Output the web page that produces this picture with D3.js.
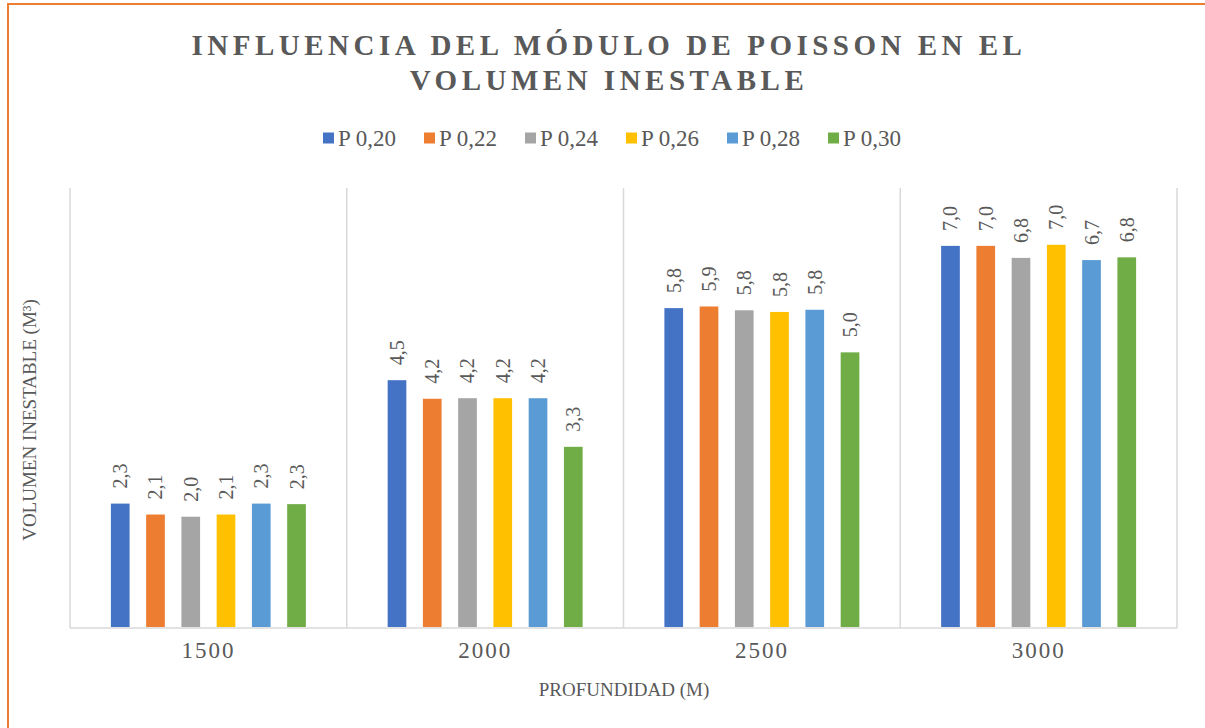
<!DOCTYPE html>
<html>
<head>
<meta charset="utf-8">
<script src="https://cdn.jsdelivr.net/npm/d3@7"></script>
<style>
  body { margin: 0; background: #fff; }
  text { font-family: "Liberation Serif", "Times New Roman", serif; }
</style>
</head>
<body>
<div id="chart"></div>
<script>
// categories and series
var categories = ["1500", "2000", "2500", "3000"]
var seriesNames = ["P 0,20", "P 0,22", "P 0,24", "P 0,26", "P 0,28", "P 0,30"]
var p020 = [2.26, 4.52, 5.84, 6.98]
var p022 = [2.06, 4.18, 5.87, 6.98]
var p024 = [2.02, 4.19, 5.80, 6.76]
var p026 = [2.06, 4.19, 5.77, 7.00]
var p028 = [2.26, 4.19, 5.81, 6.72]
var p030 = [2.25, 3.30, 5.03, 6.77]
var colors = ["#4472C4", "#ED7D31", "#A5A5A5", "#FFC000", "#5B9BD5", "#70AD47"]

var seriesValues = [p020, p022, p024, p026, p028, p030]

var width = 1205,
    height = 728

var svg = d3.select("#chart")
  .append("svg")
    .attr("width", width)
    .attr("height", height)

// chart frame (runs past the right and bottom edges)
svg.append("rect")
  .attr("x", 8)
  .attr("y", 4)
  .attr("width", width)
  .attr("height", height)
  .attr("fill", "#fff")
  .attr("stroke", "#ED7D31")
  .attr("stroke-width", 2)

// title
var title = svg.append("text")
  .attr("text-anchor", "middle")
  .attr("fill", "#595959")
  .style("font-size", "29px")
  .style("font-weight", "bold")
  .style("letter-spacing", "4.5px")
title.append("tspan").attr("x", 609).attr("y", 55).text("INFLUENCIA DEL MÓDULO DE POISSON EN EL")
title.append("tspan").attr("x", 609).attr("y", 90).text("VOLUMEN INESTABLE")

// legend
var legend = svg.selectAll(".legend")
  .data(seriesNames)
  .enter()
  .append("g")
    .attr("transform", function(d, i) { return "translate(" + (323 + i * 101) + ",138)"; })
legend.append("rect")
  .attr("x", 0)
  .attr("y", -5.5)
  .attr("width", 11)
  .attr("height", 11)
  .attr("fill", function(d, i) { return colors[i]; })
legend.append("text")
  .attr("x", 15)
  .attr("y", 8)
  .attr("fill", "#595959")
  .style("font-size", "23px")
  .text(function(d) { return d; })

// scales
var x0 = d3.scaleBand()
  .domain(categories)
  .range([70, 1177])

var x1 = d3.scaleBand()
  .domain(seriesNames)
  .range([0, x0.bandwidth()])
  .paddingInner(0.47)
  .paddingOuter(1.16)

var y = d3.scaleLinear()
  .domain([0, 8.04])
  .range([627, 188])

// category separators
var edges = categories.map(function(c) { return x0(c); }).concat([x0.range()[1]])
svg.selectAll(".sep")
  .data(edges)
  .enter()
  .append("line")
    .attr("x1", function(d) { return d; })
    .attr("x2", function(d) { return d; })
    .attr("y1", y.range()[1])
    .attr("y2", y(0) + 1)
    .attr("stroke", "#d9d9d9")
    .attr("stroke-width", 1.5)

svg.append("line")
  .attr("x1", x0.range()[0])
  .attr("x2", x0.range()[1])
  .attr("y1", y(0) + 1)
  .attr("y2", y(0) + 1)
  .attr("stroke", "#d9d9d9")
  .attr("stroke-width", 1.5)

// bars
var fmt = function(v) { return d3.format(".1f")(v).replace(".", ","); }

var groups = svg.selectAll(".grp")
  .data(categories)
  .enter()
  .append("g")
    .attr("transform", function(d) { return "translate(" + x0(d) + ",0)"; })

var cells = groups.selectAll("g")
  .data(function(d, ci) {
    return seriesNames.map(function(s, si) { return {s: s, si: si, v: seriesValues[si][ci]}; });
  })
  .enter()
  .append("g")

cells.append("rect")
  .attr("x", function(d) { return x1(d.s); })
  .attr("y", function(d) { return y(d.v); })
  .attr("width", x1.bandwidth())
  .attr("height", function(d) { return y(0) - y(d.v); })
  .attr("fill", function(d) { return colors[d.si]; })

cells.append("text")
  .attr("transform", function(d) {
    return "translate(" + (x1(d.s) + x1.bandwidth() / 2) + "," + (y(d.v) - 15) + ") rotate(-90)";
  })
  .attr("text-anchor", "start")
  .attr("dominant-baseline", "central")
  .attr("fill", "#595959")
  .style("font-size", "20px")
  .text(function(d) { return fmt(d.v); })

// x axis labels
var xAxis = svg.append("g")
  .attr("transform", "translate(0," + (y(0) + 1) + ")")
  .call(d3.axisBottom(x0).tickSize(0).tickPadding(14))
xAxis.select(".domain").remove()
xAxis.selectAll("text")
  .attr("fill", "#595959")
  .style("font-family", "'Liberation Serif', serif")
  .style("font-size", "23px")
  .style("letter-spacing", "2px")

// axis titles
svg.append("text")
  .attr("x", 624)
  .attr("y", 696)
  .attr("text-anchor", "middle")
  .attr("fill", "#595959")
  .style("font-size", "19px")
  .text("PROFUNDIDAD (M)")

svg.append("text")
  .attr("transform", "translate(36,420) rotate(-90)")
  .attr("text-anchor", "middle")
  .attr("fill", "#595959")
  .style("font-size", "19px")
  .text("VOLUMEN INESTABLE  (M³)")
</script>
</body>
</html>
